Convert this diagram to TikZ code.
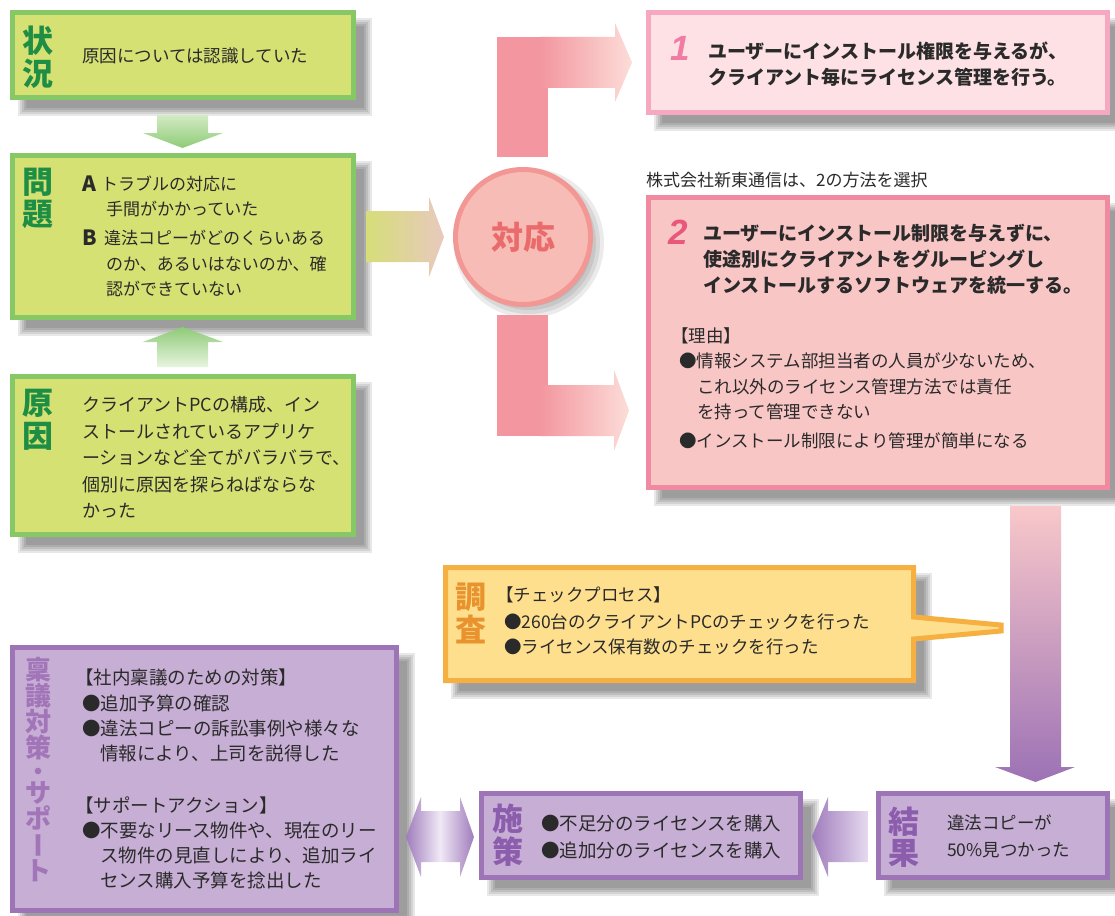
\documentclass[tikz,border=0pt]{standalone}
\usepackage{fontspec}
\usepackage{graphicx}
\setmainfont{Noto Sans CJK JP}
\newfontfamily\numfont{Liberation Sans}
\usetikzlibrary{calc}
\definecolor{gfill}{HTML}{D5E173}
\definecolor{gline}{HTML}{86C766}
\definecolor{ghead}{HTML}{1F8E45}
\definecolor{pafill}{HTML}{FDE1E5}
\definecolor{paline}{HTML}{F5A8BF}
\definecolor{pbfill}{HTML}{F9C6C6}
\definecolor{pbline}{HTML}{F08AA0}
\definecolor{cfill}{HTML}{F8BCB7}
\definecolor{cline}{HTML}{F29794}
\definecolor{ctext}{HTML}{EA6B6B}
\definecolor{pkA}{HTML}{F3969F}
\definecolor{pkB}{HTML}{FCDDD8}
\definecolor{numa}{HTML}{F27BA3}
\definecolor{numb}{HTML}{E9587A}
\definecolor{yfill}{HTML}{FDDF8E}
\definecolor{yline}{HTML}{F6B042}
\definecolor{yhead}{HTML}{E9932E}
\definecolor{vfill}{HTML}{C7AED4}
\definecolor{vline}{HTML}{9D74B5}
\definecolor{vhead}{HTML}{8C5CAD}
\definecolor{vheadb}{HTML}{A275B9}
\definecolor{txtc}{HTML}{2A2A2A}
\definecolor{garA}{HTML}{D3EBC4}
\definecolor{garB}{HTML}{8ECB77}
\definecolor{garC}{HTML}{E8F4E0}
\definecolor{olA}{HTML}{D6DE78}
\definecolor{olB}{HTML}{E8C9BE}
\definecolor{puTop}{HTML}{F9C8CA}
\definecolor{puBot}{HTML}{9C72B5}
\definecolor{puPale}{HTML}{E6DAEF}
\definecolor{puEnd}{HTML}{A07CBC}
\newcommand\softshadow[4]{%
  \foreach \d in {0,2,4,6,8}{\fill[black,opacity=0.09] (#1+8+\d,#2+8+\d) rectangle (#3+16-\d,#4+16-\d);}}
\begin{document}
\begin{tikzpicture}[x=1pt,y=-1pt,
  panel/.style={line width=5pt, inner sep=0pt, outer sep=0pt, anchor=north west},
  txt/.style={inner sep=0pt, anchor=west, text=txtc, font=\fontsize{17.5}{20}\selectfont, text height=13.3pt, text depth=0pt},
  txtm/.style={txt, font=\fontsize{17}{20}\selectfont, text height=12.92pt},
  txtn/.style={txt, font=\fontsize{18}{20}\selectfont, text height=13.68pt},
  txtl/.style={txt, font=\fontsize{18.5}{20}\selectfont, text height=14.06pt},
  txtb/.style={txt, font=\fontsize{19}{20}\selectfont\bfseries, text height=14.44pt},
  hd/.style={inner sep=0pt, anchor=center, font=\fontsize{31}{31}\selectfont\bfseries, text height=23.56pt, text depth=0pt},
  vhd/.style={hd, text=vheadb, font=\fontsize{26}{26}\selectfont\bfseries, text height=19.76pt},
  letter/.style={inner sep=0pt, anchor=west, text=txtc, font=\fontsize{21}{21}\selectfont\bfseries, text height=15.12pt, text depth=0pt},
  num/.style={inner sep=0pt, anchor=center, font=\numfont\bfseries\itshape\fontsize{35}{35}\selectfont}
]
\useasboundingbox (0,0) rectangle (1115,915);
\fill[white] (0,0) rectangle (1115,915);

% ---------- shadows ----------
\softshadow{10}{10}{356}{100}
\softshadow{10}{153}{356}{320}
\softshadow{10}{374}{356}{537}
\softshadow{646}{10}{1110}{115}
\softshadow{646}{195}{1110}{490}
\softshadow{443}{565}{916}{683}
\softshadow{876}{791}{1110}{880}
\softshadow{479}{791}{803}{880}
\softshadow{10}{645}{399}{913}
\foreach \d in {0,2,4,6}{\fill[black,opacity=0.08] (529,243) circle (75-2*\d);}

% ---------- block arrows ----------
% green down arrow (status -> problem)
\shade[top color=garA, bottom color=garB]
  (157,115) -- (208,115) -- (208,133) -- (223,133) -- (182.5,148) -- (143,133) -- (157,133) -- cycle;
% green up arrow (cause -> problem)
\shade[top color=garB, bottom color=garC]
  (182.5,327) -- (223,342) -- (208,342) -- (208,367) -- (157,367) -- (157,342) -- (143,342) -- cycle;
% problem -> response
\shade[left color=olA, right color=olB]
  (366,211) -- (429,211) -- (429,197) -- (444,237) -- (429,277) -- (429,262) -- (366,262) -- cycle;
% response -> option 1
\fill[pkA] (497,37) rectangle (548,157);
\shade[left color=pkA, right color=pkB]
  (540,37) -- (615,37) -- (615,23) -- (632,62.5) -- (615,102) -- (615,88) -- (540,88) -- cycle;
% response -> option 2
\fill[pkA] (497,315) rectangle (548,436);
\shade[left color=pkA, right color=pkB]
  (540,385) -- (614,385) -- (614,370) -- (629,410.5) -- (614,451) -- (614,436) -- (540,436) -- cycle;
% option 2 -> result
\shade[top color=puTop, bottom color=puBot]
  (1010,506) -- (1061,506) -- (1061,767) -- (1075,767) -- (1035.5,782) -- (995,767) -- (1010,767) -- cycle;
% result -> measures
\shade[left color=puEnd, right color=puPale]
  (812,836.5) -- (828,797) -- (828,811) -- (868,811) -- (868,862) -- (828,862) -- (828,877) -- cycle;
% measures <-> approval
\shade[left color=puEnd, right color=puEnd, middle color=puPale!60!white]
  (406,837) -- (421,797) -- (421,811) -- (460,811) -- (460,797) -- (474,837) -- (460,877) -- (460,862) -- (421,862) -- (421,877) -- cycle;

% ---------- boxes ----------
\node[panel, draw=gline, fill=gfill, minimum width=341pt, minimum height=85pt] (st) at (12.5,12.5) {};
\node[panel, draw=gline, fill=gfill, minimum width=341pt, minimum height=162pt] (mo) at (12.5,155.5) {};
\node[panel, draw=gline, fill=gfill, minimum width=341pt, minimum height=158pt] (ge) at (12.5,376.5) {};
\node[panel, draw=paline, fill=pafill, minimum width=459pt, minimum height=100pt] (ca) at (648.5,12.5) {};
\node[panel, draw=pbline, fill=pbfill, minimum width=459pt, minimum height=290pt] (cb) at (648.5,197.5) {};
\node[circle, draw=cline, fill=cfill, line width=5pt, minimum size=135pt, inner sep=0pt] (tai) at (523,237) {};
\draw[yline, fill=yfill, line width=5pt, miter limit=2]
  (445.5,567.5) -- (913.5,567.5) -- (913.5,617) -- (1001,625) -- (1001,631) -- (913.5,639) -- (913.5,680.5) -- (445.5,680.5) -- cycle;
\node[panel, draw=vline, fill=vfill, minimum width=229pt, minimum height=84pt] (kk) at (878.5,793.5) {};
\node[panel, draw=vline, fill=vfill, minimum width=319pt, minimum height=84pt] (ss) at (481.5,793.5) {};
\node[panel, draw=vline, fill=vfill, minimum width=384pt, minimum height=263pt] (rg) at (12.5,647.5) {};

% ---------- headers ----------
\node[hd, text=ghead] (h1) at (37.5,41) {状};
\node[hd, text=ghead] (h2) at (37.5,74) {況};
\node[hd, text=ghead] (h3) at (37.5,182) {問};
\node[hd, text=ghead] (h4) at (37.5,214) {題};
\node[hd, text=ghead] (h5) at (38,403) {原};
\node[hd, text=ghead] (h6) at (38,436) {因};
\node[hd, text=yhead] (h7) at (471,597) {調};
\node[hd, text=yhead] (h8) at (471,630) {査};
\node[hd, text=vhead] (h9) at (904,822) {結};
\node[hd, text=vhead] (h10) at (904,853) {果};
\node[hd, text=vhead] (h11) at (508,819) {施};
\node[hd, text=vhead] (h12) at (508,852) {策};
\node[hd, text=ctext, font=\fontsize{32}{32}\selectfont\bfseries, text height=24.32pt] (h13) at (tai.center) {対応};
\foreach \c/\yy [count=\i] in {稟/670,議/696,対/722,策/748,サ/793,ポ/819,ト/871}
  \node[vhd] (v\i) at (38,\yy) {\c};
\fill[vheadb] (38,771) circle (3.3);
\node[vhd, rotate=-90] (vbar) at (38,845) {ー};

% ---------- texts ----------
\node[txt] (t1) at (82,56) {原因については認識していた};

\node[letter] (la) at (82,184) {A};
\node[txtm] (t2) at (101,184) {トラブルの対応に};
\node[txtm] (t3) at (106,209) {手間がかかっていた};
\node[letter] (lb) at (82,238) {B};
\node[txtm] (t4) at (104,238) {違法コピーがどのくらいある};
\node[txtm] (t5) at (106,264) {のか、あるいはないのか、確};
\node[txtm] (t6) at (106,289) {認ができていない};

\node[txtn] (t7) at (82,405) {クライアントPCの構成、イン};
\node[txtn] (t8) at (82,432) {ストールされているアプリケ};
\node[txtn] (t9) at (82,458) {ーションなど全てがバラバラで、};
\node[txtn] (t10) at (82,485) {個別に原因を探らねばならな};
\node[txtn] (t11) at (82,511) {かった};

\node[num, text=numa] (n1) at (680,48) {1};
\node[txtb] (t12) at (708,51) {ユーザーにインストール権限を与えるが、};
\node[txtb] (t13) at (708,77) {クライアント毎にライセンス管理を行う。};

\node[txt, font=\fontsize{17}{20}\selectfont, text height=12.92pt] (t14) at (646,180) {株式会社新東通信は、2の方法を選択};

\node[num, text=numb] (n2) at (678,232) {2};
\node[txtb] (t15) at (703,233) {ユーザーにインストール制限を与えずに、};
\node[txtb] (t16) at (703,259) {使途別にクライアントをグルーピングし};
\node[txtb] (t17) at (703,285) {インストールするソフトウェアを統一する。};

\node[txt] (t18) at (671,336) {【理由】};
\node[txt] (t19) at (679,361) {●情報システム部担当者の人員が少ないため、};
\node[txt] (t20) at (697,387) {これ以外のライセンス管理方法では責任};
\node[txt] (t21) at (697,412) {を持って管理できない};
\node[txt] (t22) at (679,441) {●インストール制限により管理が簡単になる};

\node[txt] (t23) at (496,595) {【チェックプロセス】};
\node[txt] (t24) at (504,622) {●260台のクライアントPCのチェックを行った};
\node[txt] (t25) at (504,647) {●ライセンス保有数のチェックを行った};

\node[txt] (t26) at (947,823) {違法コピーが};
\node[txt] (t27) at (947,850) {50\%見つかった};

\node[txtl] (t28) at (541,823) {●不足分のライセンスを購入};
\node[txtl] (t29) at (541,850) {●追加分のライセンスを購入};

\node[txtl] (t30) at (75,677) {【社内稟議のための対策】};
\node[txtl] (t31) at (82,703) {●追加予算の確認};
\node[txtl] (t32) at (82,728) {●違法コピーの訴訟事例や様々な};
\node[txtl] (t33) at (100,753) {情報により、上司を説得した};
\node[txtl] (t34) at (75,805) {【サポートアクション】};
\node[txtl] (t35) at (82,830) {●不要なリース物件や、現在のリー};
\node[txtl] (t36) at (100,855) {ス物件の見直しにより、追加ライ};
\node[txtl] (t37) at (100,880) {センス購入予算を捻出した};
\end{tikzpicture}
\end{document}
